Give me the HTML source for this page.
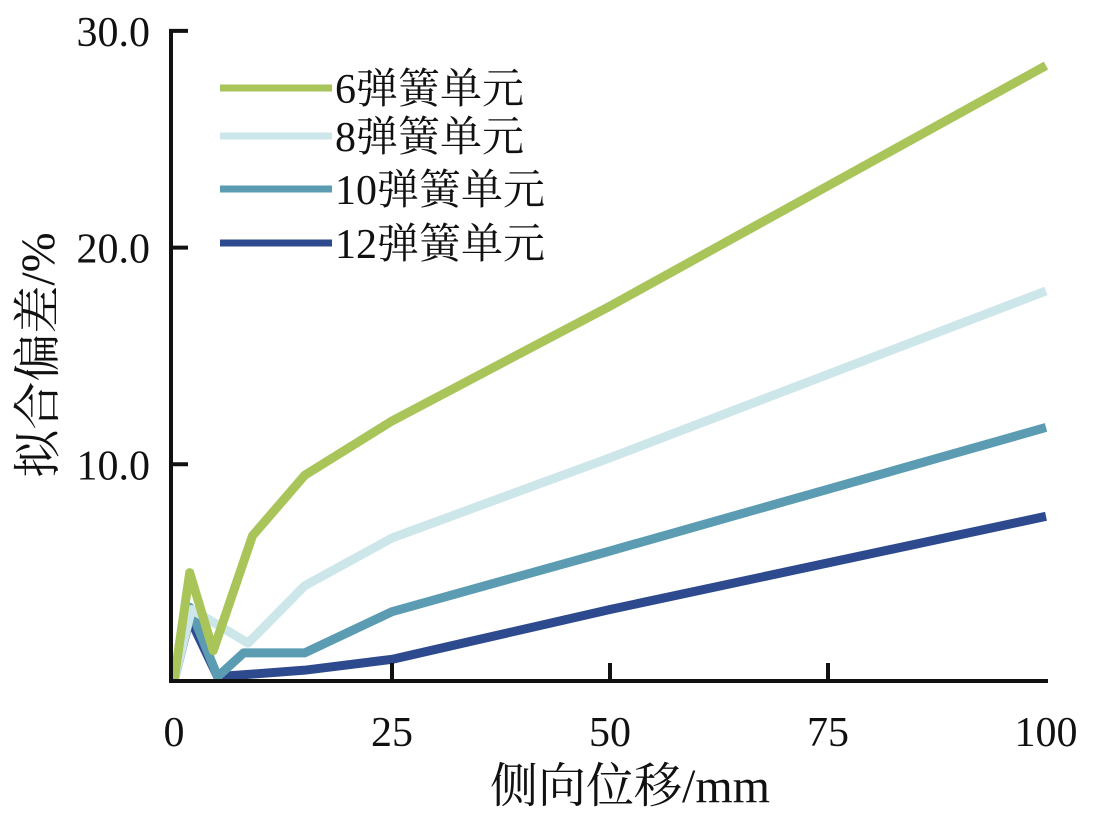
<!DOCTYPE html>
<html><head><meta charset="utf-8"><style>
body{margin:0;background:#fff;}
svg text{font-family:"Liberation Serif","Noto Serif CJK SC",serif;fill:#111;}
</style></head><body>
<svg id="chart" width="1094" height="819" viewBox="0 0 1094 819" xmlns="http://www.w3.org/2000/svg">
<g id="plot"></g>
</svg>
<script>
const xTicks=[0,25,50,75,100];
const yTicks=[10,20,30];
const yTickLabels=["10.0","20.0","30.0"];
const seriesNames=["6弹簧单元","8弹簧单元","10弹簧单元","12弹簧单元"];
const seriesColors=["#a9c55a","#cde6ea","#5b9cb3","#2e4a8e"];
const s6x=[0,1.8,4.5,9,15,25,50,100];
const s6y=[0,5.0,1.4,6.7,9.5,12.0,17.3,28.4];
const s8x=[0,2,3.5,8.5,15,25,50,100];
const s8y=[0,3.3,2.95,1.75,4.4,6.6,10.3,18.0];
const s10x=[0,1.8,5,8,15,25,50,100];
const s10y=[0,3.4,0.2,1.3,1.3,3.2,6.0,11.7];
const s12x=[0,1.8,5,15,25,50,100];
const s12y=[0,2.9,0.2,0.5,1.0,3.3,7.6];
const xs=[s6x,s8x,s10x,s12x], ys=[s6y,s8y,s10y,s12y];

const X=v=>174+v*8.72;
const Y=v=>681-v*21.67;
const NS="http://www.w3.org/2000/svg";
const g=document.getElementById('plot');
function mk(t,a){const e=document.createElementNS(NS,t);for(const k in a)e.setAttribute(k,a[k]);g.appendChild(e);return e;}

for(let i=3;i>=0;i--){
  const pts=xs[i].map((x,j)=>X(x)+","+Y(ys[i][j])).join(" ");
  const p=mk('polyline',{points:pts,fill:"none",stroke:seriesColors[i],"stroke-width":9,"stroke-linejoin":"round"});
  
  
}
let ax=mk('line',{x1:171,y1:31,x2:171,y2:683,stroke:"#111","stroke-width":4});


ax=mk('line',{x1:169,y1:681,x2:1048,y2:681,stroke:"#111","stroke-width":4});


yTicks.forEach((v,i)=>{
  const t=mk('line',{x1:169,y1:Y(v),x2:188,y2:Y(v),stroke:"#111","stroke-width":4});
  
  
  const l=mk('text',{x:150,y:Y(v)+15,"font-size":42,"text-anchor":"end"});
  l.textContent=yTickLabels[i];
  
  
});
xTicks.forEach(v=>{
  if(v>0&&v<100){const t=mk('line',{x1:X(v),y1:663,x2:X(v),y2:681,stroke:"#111","stroke-width":4});
  
  }
  const l=mk('text',{x:X(v),y:746,"font-size":42,"text-anchor":"middle"});
  l.textContent=String(v);
  
  
});
const legY=[88,136,189,243];
seriesNames.forEach((n,i)=>{
  const l=mk('line',{x1:220,y1:legY[i],x2:332,y2:legY[i],stroke:seriesColors[i],"stroke-width":7});
  
  
  const t=mk('text',{x:335,y:legY[i]+15,"font-size":42});
  t.textContent=n;
  
  
});
let tt=mk('text',{x:630,y:802,"font-size":48,"text-anchor":"middle"});
tt.textContent="侧向位移/mm";


tt=mk('text',{x:0,y:0,"font-size":48,"text-anchor":"middle",transform:"translate(54,355) rotate(-90)"});
tt.textContent="拟合偏差/%";


</script>
</body></html>
